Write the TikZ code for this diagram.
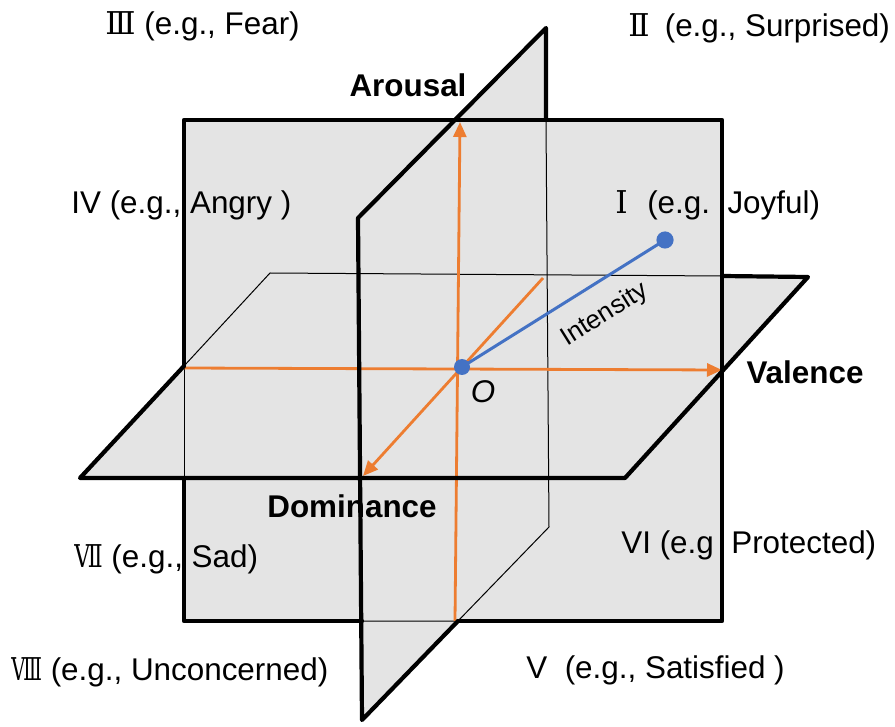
\documentclass[tikz,border=0pt]{standalone}
\usepackage{fontspec}
\setmainfont{Liberation Sans}
\newfontfamily\cjk{DejaVu Serif}
\usetikzlibrary{arrows.meta}

\definecolor{planegray}{RGB}{228,228,228}
\definecolor{axisorange}{RGB}{237,125,49}
\definecolor{intensblue}{RGB}{68,114,196}

\tikzset{
  rim/.style={line width=2.1pt, line cap=round, line join=round},
  hidden/.style={line width=0.5pt},
  axisline/.style={draw=axisorange, line width=1.4pt, -{Triangle[length=7.5pt,width=6.5pt]}},
  octant/.style={inner sep=0pt, anchor=west, font=\fontsize{15.7}{19}\selectfont},
  axisname/.style={inner sep=0pt, font=\fontsize{15.7}{19}\selectfont\bfseries},
}

\begin{document}
\begin{tikzpicture}[x=0.5pt, y=-0.5pt]
	\useasboundingbox (0,0) rectangle (895,727);
	\fill[planegray] (80,478) -- (625,478) -- (808,277) -- (270,273) -- cycle;
	\fill[planegray] (184,120) rectangle (722,621);
	\fill[planegray] (358,218) -- (546,28) -- (549,527) -- (362,720) -- cycle;
	\draw[hidden] (184,366) -- (184,478);
	\draw[hidden] (184,366) -- (270,273) -- (722,276);
	\draw[hidden] (546,120) -- (549,527) -- (458,621) -- (362,621);

	\coordinate (O) at (462,367);
	\coordinate (I) at (665,240);
	\draw[axisline] (184,368) -- (722,370);
	\draw[axisline] (455,621) -- (460,122);
	\draw[axisline] (543,278) -- (363,476);
	\draw[intensblue, line width=1.5pt] (O) -- (I)
		node[pos=0.62, sloped, below=9pt, inner sep=0pt, font=\fontsize{13}{16}\selectfont, text=black] (intens) {Intensity};
	\fill[intensblue] (O) circle (4pt) (I) circle (4.3pt);
	\node[font=\fontsize{15.7}{19}\selectfont\itshape] (olabel) at (483,392) {O};

	\node[axisname] (arousal) at (408,85) {Arousal};
	\node[axisname] (valence) at (805,372) {Valence};
	\node[axisname] (dominance) at (352,506) {Dominance};
	\foreach \n/\p/\t in {oct3/{105,26}/{{\cjk Ⅲ} (e.g., Fear)}, oct2/{628,28}/{{\cjk Ⅱ}\hspace{0.48em}(e.g., Surprised)},
		oct4/{71,205}/{IV (e.g., Angry )}, oct1/{615,205}/{{\cjk Ⅰ}\hspace{0.62em}(e.g.\ \ Joyful)},
		oct7/{74,559}/{\scalebox{0.7}[1]{\cjk Ⅶ} (e.g., Sad)}, oct6/{621,545}/{VI (e.g\ \ Protected)},
		oct8/{11,672}/{\scalebox{0.62}[1]{\cjk Ⅷ} (e.g., Unconcerned)}, oct5/{526,670}/{V\ \ (e.g., Satisfied )}} {
		\node[octant] (\n) at (\p) {\t};
	}

	\draw[rim] (184,366) -- (184,120) -- (722,120) -- (722,621) -- (458,621);
	\draw[rim] (362,621) -- (184,621) -- (184,478);
	\draw[rim] (184,366) -- (80,478) -- (625,478) -- (808,277) -- (722,276);
	\draw[rim] (546,120) -- (546,28) -- (358,218) -- (362,720) -- (458,621);
\end{tikzpicture}
\end{document}
